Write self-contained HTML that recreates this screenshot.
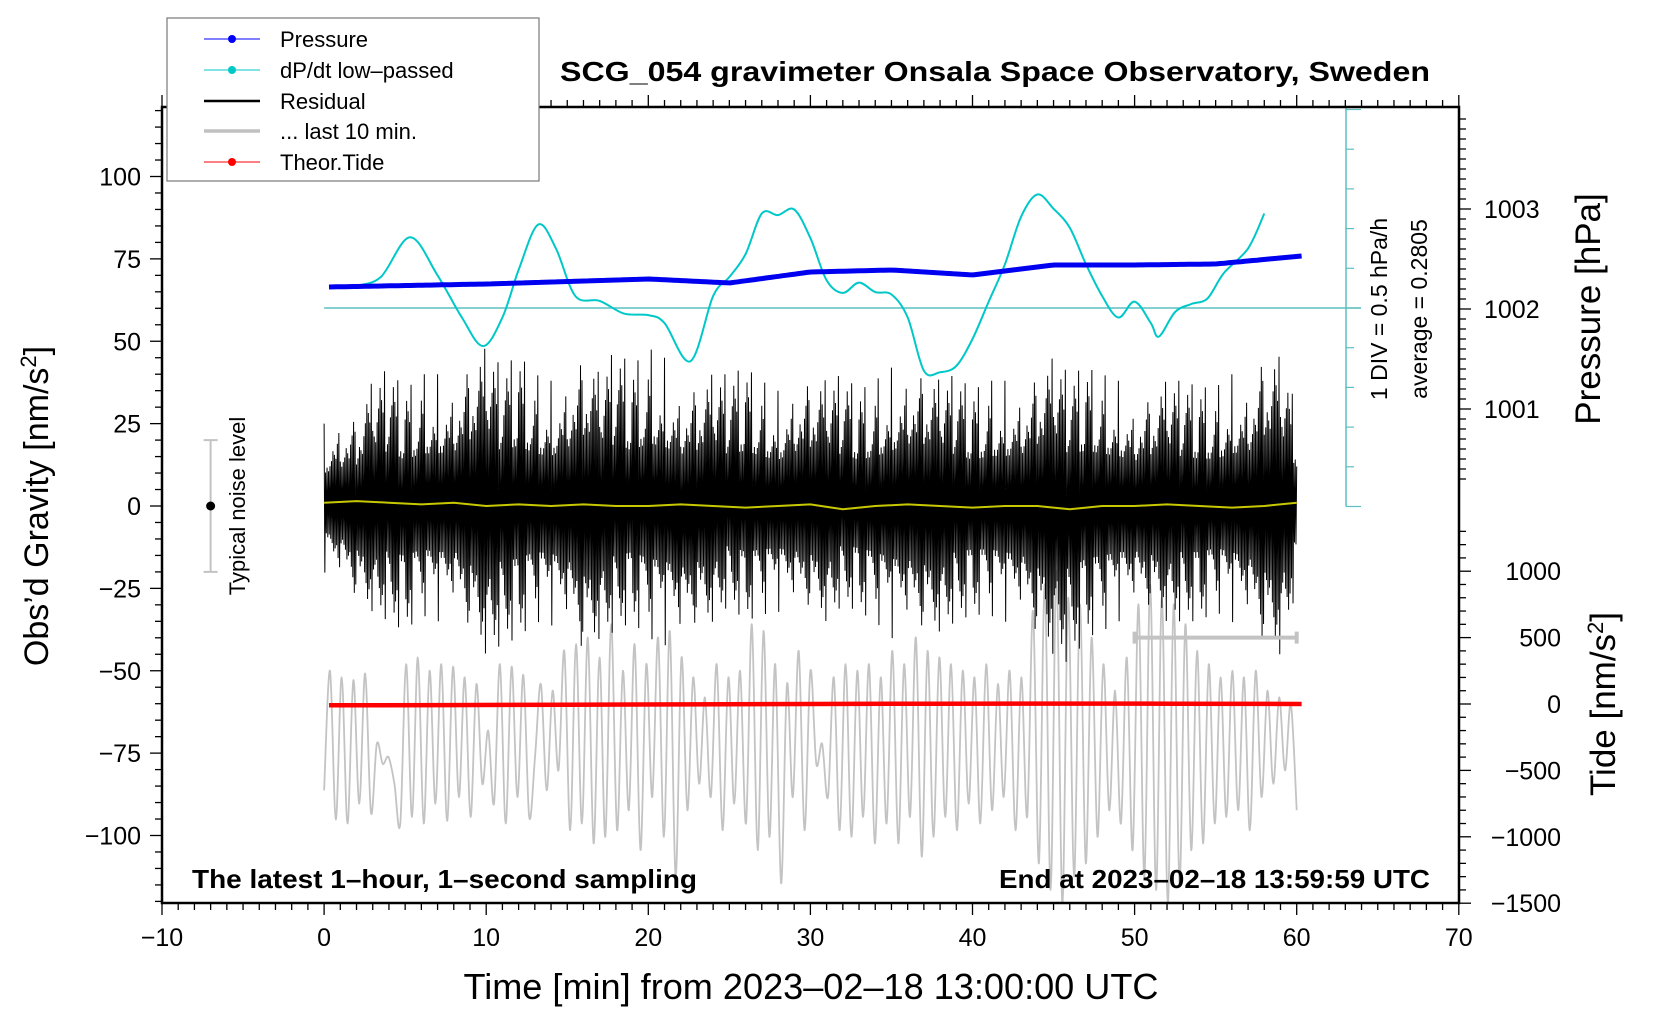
<!DOCTYPE html>
<html><head><meta charset="utf-8"><style>
html,body{margin:0;padding:0;background:#fff;}
svg{display:block;font-family:"Liberation Sans",Arial,sans-serif;}
</style></head><body>
<svg id="chart" width="1660" height="1020" viewBox="0 0 1660 1020" xmlns="http://www.w3.org/2000/svg">
<rect width="1660" height="1020" fill="#fff"/>
<g id="series"></g>
<g id="axes"></g>
<text x="995" y="81" text-anchor="middle" font-size="28" font-weight="bold" textLength="870" lengthAdjust="spacingAndGlyphs">SCG_054 gravimeter Onsala Space Observatory, Sweden</text>
<text x="192" y="888" font-size="26" font-weight="bold" textLength="505" lengthAdjust="spacingAndGlyphs">The latest 1–hour, 1–second sampling</text>
<text x="999" y="888" font-size="26" font-weight="bold" textLength="431" lengthAdjust="spacingAndGlyphs">End at 2023–02–18 13:59:59 UTC</text>
<text transform="translate(48,506) rotate(-90)" text-anchor="middle" font-size="34">Obs’d Gravity [nm/s<tspan font-size="22" dy="-12">2</tspan><tspan dy="12">]</tspan></text>
<text x="811" y="999" text-anchor="middle" font-size="36" textLength="695" lengthAdjust="spacingAndGlyphs">Time [min] from 2023–02–18 13:00:00 UTC</text>
<text transform="translate(1600,309) rotate(-90)" text-anchor="middle" font-size="35">Pressure [hPa]</text>
<text transform="translate(1615,704) rotate(-90)" text-anchor="middle" font-size="35">Tide [nm/s<tspan font-size="22" dy="-12">2</tspan><tspan dy="12">]</tspan></text>
<text transform="translate(1387,309) rotate(-90)" text-anchor="middle" font-size="23">1 DIV = 0.5 hPa/h</text>
<text transform="translate(1427,309) rotate(-90)" text-anchor="middle" font-size="23">average = 0.2805</text>
<text transform="translate(245,506) rotate(-90)" text-anchor="middle" font-size="22">Typical noise level</text>
<g id="legend">
<rect x="167" y="18" width="372" height="163" fill="#fff" stroke="#777" stroke-width="1.2"/>
<g><line x1="204" y1="39" x2="260" y2="39" stroke="#00f" stroke-width="1"/><circle cx="232" cy="39" r="4" fill="#00f"/><text x="280" y="47" font-size="22">Pressure</text></g>
<g><line x1="204" y1="70" x2="260" y2="70" stroke="#00c8c8" stroke-width="1"/><circle cx="232" cy="70" r="4" fill="#00c8c8"/><text x="280" y="78" font-size="22">dP/dt low–passed</text></g>
<g><line x1="204" y1="101" x2="260" y2="101" stroke="#000" stroke-width="2.5"/><text x="280" y="109" font-size="22">Residual</text></g>
<g><line x1="204" y1="131" x2="260" y2="131" stroke="#c0c0c0" stroke-width="3.5"/><text x="280" y="139" font-size="22">... last 10 min.</text></g>
<g><line x1="204" y1="162" x2="260" y2="162" stroke="#f00" stroke-width="1"/><circle cx="232" cy="162" r="4" fill="#f00"/><text x="280" y="170" font-size="22">Theor.Tide</text></g>
</g>
</svg>
<script>
// ---- data ----
var pressureTimes = [0.3,10,20,25,30,35,40,45,50,55,60.3];
var pressureValues = [1002.22,1002.25,1002.30,1002.26,1002.37,1002.39,1002.34,1002.44,1002.44,1002.45,1002.53];
var dpdtTimes = [2,3.5,5.3,7,8.5,9.8,11,12,13.2,14.3,15.5,17,18.5,20,21,22.6,24,25,26,27,28,29,30,31,32,33,34,35,36,37,38,39,40,41,42,43,44,45,46,47,48,49,50,51,51.5,52.5,53.5,54.5,55.5,57,58];
var dpdtValues = [0.28,0.39,0.89,0.41,-0.12,-0.48,-0.12,0.48,1.05,0.75,0.15,0.09,-0.07,-0.09,-0.19,-0.67,0.15,0.39,0.68,1.19,1.17,1.24,0.88,0.35,0.19,0.32,0.20,0.17,-0.12,-0.79,-0.81,-0.73,-0.39,0.08,0.55,1.15,1.43,1.25,1.01,0.55,0.15,-0.12,0.08,-0.19,-0.36,-0.05,0.05,0.12,0.44,0.75,1.19];
var residualPeakHi = [25,30,28,38,42,35,40,40,42,45,48,42,46,40,38,45,48,40,48,42,48,45,40,38,40,40,42,38,35,42,40,38,40,35,38,42,48,42,38,40,35,38,38,40,42,45,40,42,40,38,35,35,38,38,36,36,40,42,48,45,30];
var residualPeakLo = [-20,-25,-30,-32,-35,-38,-33,-35,-35,-40,-45,-42,-40,-35,-36,-42,-48,-40,-38,-35,-40,-42,-48,-38,-35,-30,-35,-33,-32,-35,-33,-35,-30,-32,-35,-40,-42,-40,-38,-35,-33,-33,-35,-38,-42,-45,-48,-40,-38,-35,-35,-33,-35,-35,-35,-32,-35,-40,-45,-45,-25];
var smoothedResidual = [1,1.5,1,0.5,1,0,0.5,0,0.5,0,0,0.5,0,-0.5,0,0.5,-1,0,0.5,0,-0.5,0,0,-1,0,0,0.5,0,-0.5,0,1];
var last10Values = [-650,250,-870,200,-900,180,-750,230,-820,-300,-450,-400,
 -600,-900,300,-850,350,-900,250,-750,300,-880,280,-700,
 200,-850,150,-600,-200,-750,300,-900,280,-700,220,-850,
 -400,150,-650,100,-500,400,-950,450,-900,500,-1050,350,
 -1000,600,-950,250,-800,450,-1100,300,-700,500,-1000,550,
 -1300,350,-800,200,-600,50,-700,300,-950,200,-750,250,
 -900,600,-1100,550,-1000,300,-1350,150,-700,400,-950,250,
 -450,-300,-700,200,-950,300,-1000,250,-850,300,-1050,200,
 -900,400,-1050,300,-850,500,-1150,400,-1000,350,-850,300,
 -950,250,-750,200,-900,300,-800,150,-700,250,-950,200,
 -850,700,-1200,900,-1400,1000,-1500,800,-1300,750,-1200,500,
 -1000,300,-800,100,-900,350,-1100,750,-1300,900,-1400,800,
 -1500,750,-1350,600,-1100,400,-1050,300,-900,200,-850,250,
 -800,200,-950,250,-700,100,-600,50,-500,0,-800];
var tideTimes = [0.3,7.5,15,22.5,30,37.5,45,52.5,60.3];
var tideValues = [-10,-8,-5,-3,0,2,3,2,0];
var xTicks = [-10,0,10,20,30,40,50,60,70];
var yTicks = [100,75,50,25,0,-25,-50,-75,-100];
var pressureTicks = [1003,1002,1001];
var tideTicks = [1000,500,0,-500,-1000,-1500];

// ---- scales ----
var L=162,R=1459,TOP=107,BOT=903;
function X(t){return 162+(t+10)*16.21;}
function Y(g){return 506-g*3.295;}
function P(h){return 309-(h-1002)*100;}
function T(v){return 704-v*0.1328;}
function D(v){return 308-v/0.5*39.7;}
var NS="http://www.w3.org/2000/svg";
var series=document.getElementById('series'), axes=document.getElementById('axes');
function mk(tag,attrs,parent){var e=document.createElementNS(NS,tag);for(var k in attrs)e.setAttribute(k,attrs[k]);(parent||series).appendChild(e);return e;}
function lerp(ts,vs,t){if(t<=ts[0])return vs[0];for(var i=1;i<ts.length;i++){if(t<=ts[i]){var f=(t-ts[i-1])/(ts[i]-ts[i-1]);return vs[i-1]+f*(vs[i]-vs[i-1]);}}return vs[vs.length-1];}
function smoothPath(pts){var d='M'+pts[0][0].toFixed(1)+','+pts[0][1].toFixed(1);for(var i=0;i<pts.length-1;i++){var p0=pts[Math.max(i-1,0)],p1=pts[i],p2=pts[i+1],p3=pts[Math.min(i+2,pts.length-1)];var c1x=p1[0]+(p2[0]-p0[0])/6,c1y=p1[1]+(p2[1]-p0[1])/6,c2x=p2[0]-(p3[0]-p1[0])/6,c2y=p2[1]-(p3[1]-p1[1])/6;d+=' C'+c1x.toFixed(1)+','+c1y.toFixed(1)+' '+c2x.toFixed(1)+','+c2y.toFixed(1)+' '+p2[0].toFixed(1)+','+p2[1].toFixed(1);}return d;}

var gp=[];for(var i=0;i<last10Values.length;i++){gp.push([X(i*60/(last10Values.length-1)),T(last10Values[i])]);}
var g1=mk('path',{d:smoothPath(gp),fill:'none',stroke:'#c3c3c3','stroke-width':1.8});



var F=[1,0.5,0.75,0.4,0.6,0.9,0.45,0.55,0.8,0.4,0.5,0.7,0.45,0.65];
var rp=[];var steps=22;
for(var i=0;i<=60*steps;i++){var t=i/steps;var m=Math.min(Math.floor(t),59),f=t-m;
 var hi=residualPeakHi[m]+(residualPeakHi[m+1]-residualPeakHi[m])*f, lo=residualPeakLo[m]+(residualPeakLo[m+1]-residualPeakLo[m])*f;
 var v=(i%2===0?hi:lo)*F[(Math.floor(i/2)*3+m)%F.length];
 rp.push(X(t).toFixed(2)+','+Y(v).toFixed(1));}
var r1=mk('polyline',{points:rp.join(' '),fill:'none',stroke:'#000','stroke-width':1});



var yp=[];for(var i=0;i<smoothedResidual.length;i++){yp.push(X(i*2).toFixed(1)+','+Y(smoothedResidual[i]).toFixed(1));}
var y1=mk('polyline',{points:yp.join(' '),fill:'none',stroke:'#c8c800','stroke-width':2});



var tp=[];for(var i=0;i<tideTimes.length;i++){tp.push(X(tideTimes[i]).toFixed(1)+','+T(tideValues[i]).toFixed(1));}
var t1=mk('polyline',{points:tp.join(' '),fill:'none',stroke:'#f00','stroke-width':4.5});



var cb=mk('line',{x1:X(0),y1:D(0),x2:1361,y2:D(0),stroke:'#5cc0c0','stroke-width':1.5});


var ca=mk('line',{x1:1346,y1:107,x2:1346,y2:D(-2.5),stroke:'#5cc0c0','stroke-width':1.5});


for(var k=-5;k<=5;k++){var c=mk('line',{x1:1346,y1:D(k*0.5),x2:(k===0||k===-5||k===5)?1361:1354,y2:D(k*0.5),stroke:'#5cc0c0','stroke-width':1.2});
 
 }
var cap=mk('line',{x1:1330,y1:107,x2:1361,y2:107,stroke:'#5cc0c0','stroke-width':1.5});



var dp=[];for(var i=0;i<dpdtTimes.length;i++){dp.push([X(dpdtTimes[i]),D(dpdtValues[i])]);}
var d1=mk('path',{d:smoothPath(dp),fill:'none',stroke:'#00c8c8','stroke-width':2});



var pp=[];for(var t=0.3;t<=60.31;t+=0.25){var h=lerp(pressureTimes,pressureValues,t);pp.push(X(t).toFixed(1)+','+P(h).toFixed(1));}
var p1=mk('polyline',{points:pp.join(' '),fill:'none',stroke:'#0000f0','stroke-width':5,'stroke-linejoin':'round'});



var sb=mk('path',{d:'M'+X(50)+','+T(500)+' H'+X(60)+' M'+X(50)+','+(T(500)-6)+' V'+(T(500)+6)+' M'+X(60)+','+(T(500)-6)+' V'+(T(500)+6),stroke:'#c3c3c3','stroke-width':4,fill:'none'});



var nb=mk('path',{d:'M'+X(-7)+','+Y(20)+' V'+Y(-20)+' M'+(X(-7)-7)+','+Y(20)+' h14 M'+(X(-7)-7)+','+Y(-20)+' h14',stroke:'#c3c3c3','stroke-width':2,fill:'none'});


var nd=mk('circle',{cx:X(-7),cy:Y(0),r:4.5,fill:'#000'});



var fr=mk('rect',{x:L,y:TOP,width:R-L,height:BOT-TOP,fill:'none',stroke:'#000','stroke-width':2.5},axes);


for(var t=-10;t<=70;t++){var mj=(t%10===0);
 mk('line',{x1:X(t),y1:BOT,x2:X(t),y2:BOT+(mj?12:7),stroke:'#000','stroke-width':1.3},axes);
 mk('line',{x1:X(t),y1:TOP,x2:X(t),y2:TOP-(mj?12:7),stroke:'#000','stroke-width':1.3},axes);}
for(var i=0;i<xTicks.length;i++){var lb=mk('text',{x:X(xTicks[i]),y:946,'text-anchor':'middle','font-size':25},axes);lb.textContent=String(xTicks[i]).replace('-','−');
 
 }
for(var g=-120;g<=120;g+=5){var mj=(g%25===0);mk('line',{x1:L,y1:Y(g),x2:L-(mj?12:7),y2:Y(g),stroke:'#000','stroke-width':1.3},axes);}
for(var i=0;i<yTicks.length;i++){var lb=mk('text',{x:141,y:Y(yTicks[i])+9,'text-anchor':'end','font-size':25},axes);lb.textContent=String(yTicks[i]).replace('-','−');
 
 }
for(var h=1000.3;h<=1004.0;h+=0.1){var y=P(h);if(y<TOP+2||y>505)continue;var mj=Math.abs(h-Math.round(h))<0.01;mk('line',{x1:R,y1:y,x2:R+(mj?12:7),y2:y,stroke:'#000','stroke-width':1.3},axes);}
for(var i=0;i<pressureTicks.length;i++){var lb=mk('text',{x:1484,y:P(pressureTicks[i])+9,'font-size':25},axes);lb.textContent=String(pressureTicks[i]);
 
 }
for(var v=-1500;v<=1600;v+=100){var y=T(v);if(y<520)continue;var mj=(v%500===0);mk('line',{x1:R,y1:y,x2:R+(mj?12:7),y2:y,stroke:'#000','stroke-width':1.3},axes);}
for(var i=0;i<tideTicks.length;i++){var lb=mk('text',{x:1561,y:T(tideTicks[i])+9,'text-anchor':'end','font-size':25},axes);lb.textContent=String(tideTicks[i]).replace('-','−');
 
 }
</script>
</body></html>
